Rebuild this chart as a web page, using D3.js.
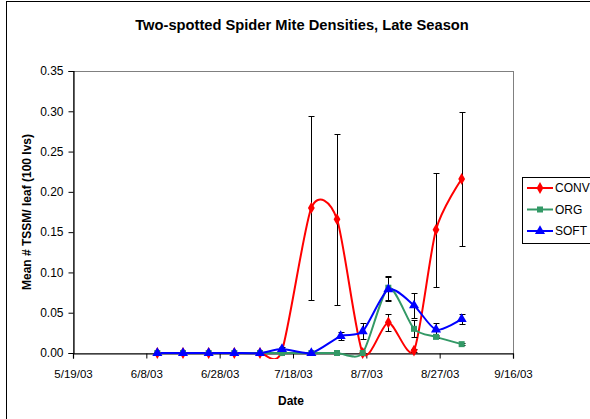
<!DOCTYPE html>
<html>
<head>
<meta charset="utf-8">
<script src="https://cdnjs.cloudflare.com/ajax/libs/d3/7.8.5/d3.min.js"></script>
<style>
	body { margin: 0; background: #fff; }
	svg { display: block; font-family: "Liberation Sans", Arial, sans-serif; }
</style>
</head>
<body>
<div id="chart"></div>
<script>
// sample dates (SOFT was read on 7/31 instead of 7/30)
var dates = ["6/11/03", "6/18/03", "6/25/03", "7/2/03", "7/9/03", "7/15/03", "7/23/03",
	"7/30/03", "8/6/03", "8/13/03", "8/20/03", "8/26/03", "9/2/03"];
var softDates = ["6/11/03", "6/18/03", "6/25/03", "7/2/03", "7/9/03", "7/15/03", "7/23/03",
	"7/31/03", "8/6/03", "8/13/03", "8/20/03", "8/26/03", "9/2/03"];

var conv = [0, 0, 0, 0, 0, 0.003, 0.180, 0.166, 0, 0.038, 0.003, 0.153, 0.216];
var convErr = [0, 0, 0, 0, 0, 0, 0.114, 0.106, 0, 0.011, 0.002, 0.071, 0.083];

var org = [0, 0, 0, 0, 0, 0, 0, 0, 0, 0.081, 0.030, 0.020, 0.011];
var orgErr = [0, 0, 0, 0, 0, 0, 0, 0, 0, 0.015, 0.0105, 0.002, 0.001];

var soft = [0, 0, 0, 0, 0, 0.005, 0, 0.021, 0.027, 0.079, 0.059, 0.029, 0.042];
var softErr = [0, 0, 0, 0, 0, 0.003, 0, 0.005, 0.010, 0.015, 0.015, 0.008, 0.006];

var xTicks = ["5/19/03", "6/8/03", "6/28/03", "7/18/03", "8/7/03", "8/27/03", "9/16/03"];
var yTicks = [0, 0.05, 0.10, 0.15, 0.20, 0.25, 0.30, 0.35];

var parseDate = d3.timeParse("%m/%d/%y");

var series = [
	{name: "CONV", color: "#ff0000", marker: d3.symbolDiamond, size: 40, dates: dates, values: conv, err: convErr},
	{name: "ORG", color: "#339966", marker: d3.symbolSquare, size: 36, dates: dates, values: org, err: orgErr},
	{name: "SOFT", color: "#0000ff", marker: d3.symbolTriangle, size: 44, dates: softDates, values: soft, err: softErr}
];

var W = 590, H = 419;
var plot = {left: 73, right: 513, top: 71, bottom: 353};

var svg = d3.select("#chart").append("svg")
	.attr("width", W)
	.attr("height", H);

// chart area border (runs off the right and bottom of the picture)
svg.append("rect")
	.attr("x", 6.5).attr("y", 1.5)
	.attr("width", 700).attr("height", 500)
	.attr("fill", "#fff")
	.attr("stroke", "#000");

var x = d3.scaleTime()
	.domain([parseDate(xTicks[0]), parseDate(xTicks[xTicks.length - 1])])
	.range([plot.left, plot.right]);
var y = d3.scaleLinear().domain([0, 0.35]).range([plot.bottom, plot.top]);

// plot area frame
svg.append("rect")
	.attr("x", plot.left + 0.5).attr("y", plot.top + 0.5)
	.attr("width", plot.right - plot.left).attr("height", plot.bottom - plot.top)
	.attr("fill", "none")
	.attr("stroke", "#808080");

// axes
var xAxis = d3.axisBottom(x)
	.tickValues(xTicks.map(parseDate))
	.tickFormat(d3.timeFormat("%-m/%-d/%y"))
	.tickSizeOuter(0)
	.tickSize(5)
	.tickPadding(11);
var yAxis = d3.axisLeft(y)
	.tickValues(yTicks)
	.tickFormat(d3.format(".2f"))
	.tickSizeOuter(0)
	.tickSize(5)
	.tickPadding(5);

svg.append("g")
	.attr("transform", "translate(0," + (plot.bottom + 0.5) + ")")
	.call(xAxis)
	.call(function(g) {
		g.select(".domain").attr("stroke", "#000").attr("stroke-width", 1.2);
		g.selectAll("text").attr("font-size", 11.5).attr("fill", "#000").attr("font-family", "Liberation Sans");
	});

svg.append("g")
	.attr("transform", "translate(" + (plot.left + 0.5) + ",0)")
	.call(yAxis)
	.call(function(g) {
		g.select(".domain").attr("stroke", "#000").attr("stroke-width", 1.2);
		g.selectAll("text").attr("font-size", 12).attr("fill", "#000").attr("font-family", "Liberation Sans");
	});

// titles
svg.append("text")
	.attr("x", 302).attr("y", 30)
	.attr("text-anchor", "middle")
	.attr("font-size", 14.7).attr("font-weight", "bold")
	.text("Two-spotted Spider Mite Densities, Late Season");

svg.append("text")
	.attr("x", 291).attr("y", 405)
	.attr("text-anchor", "middle")
	.attr("font-size", 12).attr("font-weight", "bold")
	.text("Date");

svg.append("text")
	.attr("transform", "translate(31," + ((plot.top + plot.bottom) / 2) + ") rotate(-90)")
	.attr("text-anchor", "middle")
	.attr("font-size", 12).attr("font-weight", "bold")
	.text("Mean # TSSM/ leaf (100 lvs)");

// build point rows for each series
series.forEach(function(s) {
	s.points = s.values.map(function(v, i) {
		return {date: parseDate(s.dates[i]), v: v, e: s.err[i]};
	});
});

// smoothed line, a bit tighter than plain Catmull-Rom
var line = d3.line()
	.x(function(d) { return x(d.date); })
	.y(function(d) { return y(d.v); })
	.curve(d3.curveCardinal.tension(0.25));

svg.append("clipPath").attr("id", "plotclip")
	.append("rect")
	.attr("x", plot.left).attr("y", plot.top - 2)
	.attr("width", plot.right - plot.left).attr("height", plot.bottom - plot.top + 8);

// lines
series.forEach(function(s) {
	svg.append("path")
		.attr("clip-path", "url(#plotclip)")
		.attr("d", line(s.points))
		.attr("fill", "none")
		.attr("stroke", s.color)
		.attr("stroke-width", 2);
});

// error bars
series.forEach(function(s) {
	var g = svg.append("g").attr("stroke", "#000").attr("stroke-width", 1);
	s.points.filter(function(d) { return d.e > 0; }).forEach(function(d) {
		var cx = Math.round(x(d.date)) + 0.5;
		var top = Math.round(y(d.v + d.e)) + 0.5;
		var bot = Math.round(y(Math.max(0, d.v - d.e))) + 0.5;
		g.append("line").attr("x1", cx).attr("x2", cx).attr("y1", top).attr("y2", bot);
		g.append("line").attr("x1", cx - 3).attr("x2", cx + 3).attr("y1", top).attr("y2", top);
		g.append("line").attr("x1", cx - 3).attr("x2", cx + 3).attr("y1", bot).attr("y2", bot);
	});
});

// markers
series.forEach(function(s) {
	svg.append("g").selectAll("path")
		.data(s.points)
		.join("path")
		.attr("transform", function(d) { return "translate(" + x(d.date) + "," + y(d.v) + ")"; })
		.attr("d", d3.symbol().type(s.marker).size(s.size))
		.attr("fill", s.color);
});

// legend
var legend = svg.append("g");
legend.append("rect")
	.attr("x", 522.5).attr("y", 177.5)
	.attr("width", 100).attr("height", 66)
	.attr("fill", "#fff")
	.attr("stroke", "#000");

series.forEach(function(s, i) {
	var ly = 188 + i * 21.5;
	legend.append("line")
		.attr("x1", 527).attr("x2", 553)
		.attr("y1", ly).attr("y2", ly)
		.attr("stroke", s.color).attr("stroke-width", 2);
	legend.append("path")
		.attr("transform", "translate(540," + ly + ")")
		.attr("d", d3.symbol().type(s.marker).size(s.size))
		.attr("fill", s.color);
	legend.append("text")
		.attr("x", 555).attr("y", ly + 4)
		.attr("font-size", 12)
		.text(s.name);
});
</script>
</body>
</html>
